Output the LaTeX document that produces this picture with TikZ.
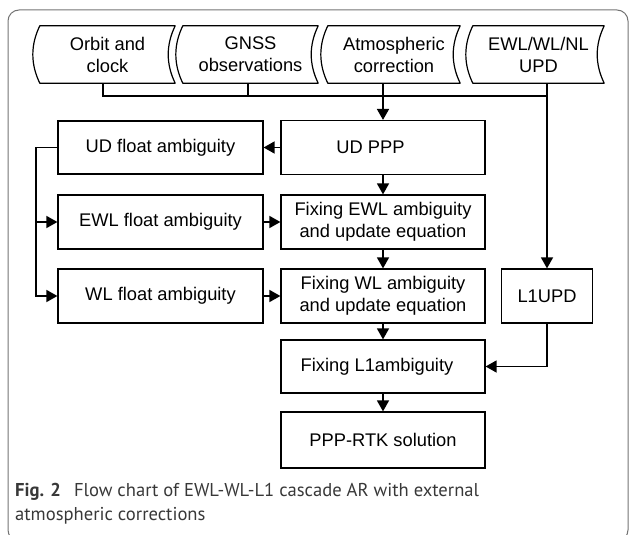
\documentclass[tikz,border=0pt]{standalone}
\usepackage{fontspec}
\setmainfont{Liberation Sans}
\newfontfamily\capfont{PT Sans}
\usetikzlibrary{arrows.meta,calc}

\definecolor{framegray}{gray}{0.45}
\definecolor{capgray}{gray}{0.22}

% outline of a "stored data" input: both short sides bow to the left
\newcommand\datapath[1]{%
  \draw[shapeline] (#1.north west) -- (#1.north east)
    .. controls ([shift={(-9.3,19)}]#1.north east) and ([shift={(-9.3,-19)}]#1.south east) .. (#1.south east)
    -- (#1.south west)
    .. controls ([shift={(-9.3,-19)}]#1.south west) and ([shift={(-9.3,19)}]#1.north west) .. (#1.north west) -- cycle;}

\begin{document}
\begin{tikzpicture}[x=1pt,y=-1pt,
  boxfont/.style={font=\fontsize{18.3}{22}\selectfont},
  flowbox/.style={boxfont, draw=black, line width=1.2pt, minimum height=54pt,
                  inner sep=0pt, align=center},
  datanode/.style={boxfont, minimum width=#1, minimum height=57pt, inner sep=0pt, align=center},
  shapeline/.style={draw=black, line width=1.2pt, line join=round},
  link/.style={draw=black, line width=1.5pt},
  arr/.style={link, -{Triangle[length=11pt,width=12pt]}},
  capline/.style={anchor=base west, inner sep=0pt, text=capgray,
                  font=\capfont\fontsize{18.6}{24}\selectfont}]

\useasboundingbox (0,0) rectangle (630,535);
\clip (0,0) rectangle (630,535);

% outer frame
\draw[framegray, line width=1pt, rounded corners=11pt] (8,10) rectangle (628,541);

% inputs
\node[datanode=135pt] (orbit) at (107.5,54.5) {Orbit and\\clock};
\node[datanode=135pt] (gnss)  at (250.5,54.5) {GNSS\\observations};
\node[datanode=132pt] (atm)   at (394,54.5)   {Atmospheric\\correction};
\node[datanode=131pt] (upd)   at (538.5,54.5) {EWL/WL/NL\\UPD};
\datapath{orbit}
\datapath{gnss}
\datapath{atm}
\datapath{upd}

% processing boxes
\node[flowbox, minimum width=204pt] (udppp)  at (383,147.5) {UD PPP\hspace*{25pt}};
\node[flowbox, minimum width=204pt] (fixewl) at (383,222)   {Fixing EWL ambiguity\\and update equation};
\node[flowbox, minimum width=204pt] (fixwl)  at (383,296)   {Fixing WL ambiguity\\and update equation};
\node[flowbox, minimum width=204pt, minimum height=53pt] (fixl1) at (383,366.5) {Fixing L1ambiguity\hspace*{12pt}};
\node[flowbox, minimum width=204pt, minimum height=56pt] (rtk) at (383,440) {PPP-RTK solution};

\node[flowbox, minimum width=205pt, minimum height=53pt] (udf) at (160.5,147.5) {UD float ambiguity};
\node[flowbox, minimum width=205pt] (ewlf) at (160.5,222) {EWL float ambiguity};
\node[flowbox, minimum width=205pt] (wlf)  at (160.5,296) {WL float ambiguity};

\node[flowbox, minimum width=91pt] (l1upd) at (547,296) {L1UPD};

% collecting bus under the inputs
\coordinate (j1) at (103,96);
\coordinate (j2) at (248,96);
\coordinate (j3) at (383,96);
\coordinate (j4) at (547,96);
\draw[link] (j1 |- orbit.south) -- (j1) -- (j4);
\draw[link] (j2 |- gnss.south) -- (j2);
\draw[arr, line width=1.8pt] (j3 |- atm.south) -- (udppp.north);
\draw[arr] (j4 |- upd.south) -- (l1upd.north);

% main cascade
\draw[arr] (udppp.west) -- (udf.east);
\draw[arr] (udppp.south) -- (fixewl.north);
\draw[arr] (fixewl.south) -- (fixwl.north);
\draw[arr] (fixwl.south) -- (fixl1.north);
\draw[arr] (fixl1.south) -- (rtk.north);
\draw[arr] (ewlf.east) -- (fixewl.west);
\draw[arr] (wlf.east) -- (fixwl.west);
\draw[arr] (l1upd.south) |- (fixl1.east);

% float ambiguities handed down the left side
\coordinate (lb) at (36,0);
\draw[arr] (udf.west) -| (lb |- wlf.west) -- (wlf.west);
\draw[arr] (lb |- ewlf.west) -- (ewlf.west);

% caption
\node[capline] (cap1) at (15,496) {\textbf{Fig. 2}\hspace{13pt}Flow chart of EWL-WL-L1 cascade AR with external};
\node[capline] (cap2) at (15,520) {atmospheric corrections};
\end{tikzpicture}
\end{document}
